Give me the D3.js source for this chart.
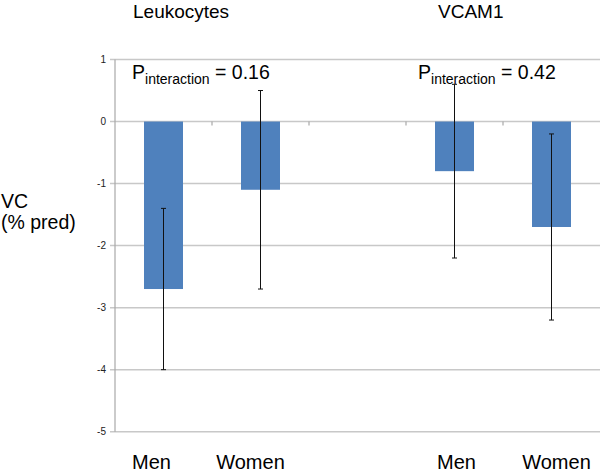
<!DOCTYPE html>
<html><head><meta charset="utf-8">
<script src="https://cdn.jsdelivr.net/npm/d3@7"></script>
<style>body{margin:0;background:#fff}text{font-family:"Liberation Sans",Arial,sans-serif}</style>
</head><body>
<svg id="c" width="600" height="474"></svg>
<script>
const categories = ["Men","Women","","Men","Women"];
const slots = ["L-Men","L-Women","gap","V-Men","V-Women"];
const values = [-2.7,-1.1,null,-0.8,-1.7];
const errLow = [-4.0,-2.7,null,-2.2,-3.2];
const errHigh = [-1.4,0.5,null,0.6,-0.2];
const yTicks = [1,0,-1,-2,-3,-4,-5];
const groupTitles = ["Leukocytes","VCAM1"];
const pValues = ["0.16","0.42"];

// layout constants
const labelDx = [-12,-10,0,2,5];
const titleX = [133,438];
const pX = [132,418];

const svg = d3.select("#c");
const x = d3.scaleBand().domain(slots).range([115,600]).paddingInner(0).paddingOuter(0);
const y = d3.scaleLinear().domain([-5,1]).range([431.7,59.5]);
const bw = 39;

// gridlines
svg.append("g").selectAll("line").data(yTicks).join("line")
  .attr("x1",110).attr("x2",600).attr("y1",d=>y(d)).attr("y2",d=>y(d))
  .attr("stroke","#c8c8c8").attr("stroke-width",1.5);
// y axis line
svg.append("line").attr("x1",115).attr("x2",115).attr("y1",y(1)).attr("y2",y(-5))
  .attr("stroke","#a8a8a8").attr("stroke-width",1.2);
// tick labels
svg.append("g").selectAll("text").data(yTicks).join("text")
  .attr("x",106).attr("y",d=>y(d)+3.5).attr("text-anchor","end")
  .attr("font-size",10).attr("fill","#222").text(d=>d===0?"0":(d<0?"-"+(-d):d));
// category boundary ticks on zero line
svg.append("g").selectAll("line").data(slots.slice(1)).join("line")
  .attr("x1",d=>x(d)).attr("x2",d=>x(d)).attr("y1",y(0)).attr("y2",y(0)+4)
  .attr("stroke","#a8a8a8").attr("stroke-width",1.2);

const idx = d3.range(slots.length).filter(i=>values[i]!==null);
// bars
svg.append("g").selectAll("rect").data(idx).join("rect")
  .attr("x",i=>x(slots[i])+x.bandwidth()/2-bw/2).attr("width",bw)
  .attr("y",i=>y(Math.max(0,values[i]))).attr("height",i=>Math.abs(y(values[i])-y(0)))
  .attr("fill","#4f81bd");
// error bars
const eg = svg.append("g").attr("stroke","#111").attr("stroke-width",1);
idx.forEach(i=>{
  const cx = x(slots[i])+x.bandwidth()/2;
  eg.append("line").attr("x1",cx).attr("x2",cx).attr("y1",y(errLow[i])).attr("y2",y(errHigh[i]));
  [errLow[i],errHigh[i]].forEach(v=>eg.append("line").attr("x1",cx-2.5).attr("x2",cx+2.5).attr("y1",y(v)).attr("y2",y(v)));
});
// category labels
svg.append("g").selectAll("text").data(d3.range(slots.length)).join("text")
  .attr("x",i=>x(slots[i])+x.bandwidth()/2+labelDx[i]).attr("y",469).attr("text-anchor","middle")
  .attr("font-size",20).attr("fill","#000").text(i=>categories[i]);
// group titles
svg.append("g").selectAll("text").data(groupTitles).join("text")
  .attr("x",(d,i)=>titleX[i]).attr("y",18).attr("font-size",19).attr("fill","#000").text(d=>d);
// P interaction
pValues.forEach((p,i)=>{
  const t = svg.append("text").attr("x",pX[i]).attr("y",79).attr("font-size",19.5).attr("fill","#000");
  t.append("tspan").text("P");
  t.append("tspan").attr("font-size",14).attr("dy",5).text("interaction");
  t.append("tspan").attr("dy",-5).text(" = "+p);
});
// y title
svg.append("text").attr("x",1).attr("y",208).attr("font-size",19.5).text("VC");
svg.append("text").attr("x",1).attr("y",229).attr("font-size",19.5).text("(% pred)");
</script>
</body></html>
